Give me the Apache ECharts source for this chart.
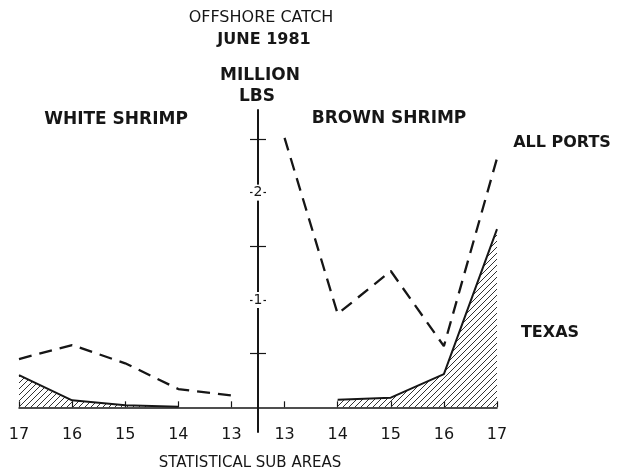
<!DOCTYPE html>
<html>
<head>
<meta charset="UTF-8">
<title>Offshore catch June 1981</title>
<script src="https://cdn.jsdelivr.net/npm/echarts@6/dist/echarts.min.js"></script>
<style>
  html, body { margin: 0; padding: 0; background: #fff; }
  #chart { width: 624px; height: 474px; }
</style>
</head>
<body>
<div id="chart"></div>
<script>
// sub areas, white shrimp side (17 -> 13) then brown shrimp side (13 -> 17)
var whiteAreas = ['17', '16', '15', '14', '13'];
var brownAreas = ['13', '14', '15', '16', '17'];

// million lbs
var whiteAllPorts = [0.45, 0.58, 0.41, 0.17, 0.11];
var whiteTexas    = [0.30, 0.065, 0.02, 0.005, null];
var brownAllPorts = [2.51, 0.87, 1.27, 0.57, 2.32];
var brownTexas    = [null, 0.07, 0.09, 0.31, 1.66];

var yTicks  = [0.5, 1, 1.5, 2, 2.5];
var yLabels = [1, 2];

var blank = [null, null, null, null, null];
var categories = whiteAreas.concat(brownAreas);

// diagonal hatch for the Texas areas
function hatch() {
  var c = document.createElement('canvas');
  c.width = c.height = 6;
  var g = c.getContext('2d');
  g.strokeStyle = '#333';
  g.lineWidth = 1;
  g.beginPath();
  g.moveTo(0, 6); g.lineTo(6, 0);
  g.moveTo(-1, 1); g.lineTo(1, -1);
  g.moveTo(5, 7); g.lineTo(7, 5);
  g.stroke();
  return c;
}

var ink = '#161616';
var font = 'DejaVu Sans';
var hatchFill = { image: hatch(), repeat: 'repeat' };

function txt(text, x, y, size, weight) {
  return {
    type: 'text', x: x, y: y,
    style: { text: text, fontSize: size, fontWeight: weight, fontFamily: font,
             fill: ink, align: 'center', verticalAlign: 'middle' }
  };
}

var chart = echarts.init(document.getElementById('chart'));
chart.setOption({
  animation: false,
  backgroundColor: '#fff',
  grid: { left: 19, right: 127, top: 110, bottom: 42, outerBoundsMode: 'none' },
  xAxis: {
    type: 'category',
    data: categories,
    boundaryGap: false,
    axisLine: { onZero: true, lineStyle: { color: ink, width: 1.5 } },
    axisTick: { inside: true, length: 6, lineStyle: { color: ink, width: 1.2 } },
    axisLabel: { color: ink, fontSize: 16, fontFamily: font, margin: -5, interval: 0 },
    splitLine: { show: false }
  },
  yAxis: [{
    type: 'value', min: -0.23, max: 2.77,
    position: 'left', offset: -239, z: 1,
    axisLine: { show: true, lineStyle: { color: ink, width: 2 } },
    axisTick: { show: true, length: 8, customValues: yTicks, lineStyle: { color: ink, width: 1.2 } },
    axisLabel: { show: false },
    splitLine: { show: false }
  }, {
    type: 'value', min: -0.23, max: 2.77,
    position: 'left', offset: -239, z: 3,
    axisLine: { show: false },
    axisTick: { show: true, inside: true, length: 8, customValues: yTicks, lineStyle: { color: ink, width: 1.2 } },
    axisLabel: {
      show: true, customValues: yLabels, align: 'center', verticalAlign: 'middle', margin: 0,
      color: ink, fontSize: 14, fontFamily: font, backgroundColor: '#fff', padding: [1, 1]
    },
    splitLine: { show: false }
  }],
  series: [{
    name: 'White all ports', type: 'line', data: whiteAllPorts.concat(blank),
    showSymbol: false,
    lineStyle: { color: ink, width: 2.3, type: [13, 8] }
  }, {
    name: 'White Texas', type: 'line', data: whiteTexas.concat(blank),
    showSymbol: false,
    lineStyle: { color: ink, width: 2 },
    areaStyle: { color: hatchFill, opacity: 1 }
  }, {
    name: 'Brown all ports', type: 'line', data: blank.concat(brownAllPorts),
    showSymbol: false,
    lineStyle: { color: ink, width: 2.3, type: [13, 8] }
  }, {
    name: 'Brown Texas', type: 'line', data: blank.concat(brownTexas),
    showSymbol: false,
    lineStyle: { color: ink, width: 2 },
    areaStyle: { color: hatchFill, opacity: 1 }
  }],
  graphic: [
    txt('OFFSHORE CATCH', 261, 18, 16, 'normal'),
    txt('JUNE 1981', 264, 40, 16, 'bold'),
    txt('MILLION', 260, 76, 17, 'bold'),
    txt('LBS', 257, 97, 17, 'bold'),
    txt('WHITE SHRIMP', 116, 120, 17, 'bold'),
    txt('BROWN SHRIMP', 389, 119, 17, 'bold'),
    txt('ALL PORTS', 562, 143, 16, 'bold'),
    txt('TEXAS', 550, 333, 16, 'bold'),
    txt('STATISTICAL SUB AREAS', 250, 463, 15, 'normal')
  ]
});
</script>
</body>
</html>
